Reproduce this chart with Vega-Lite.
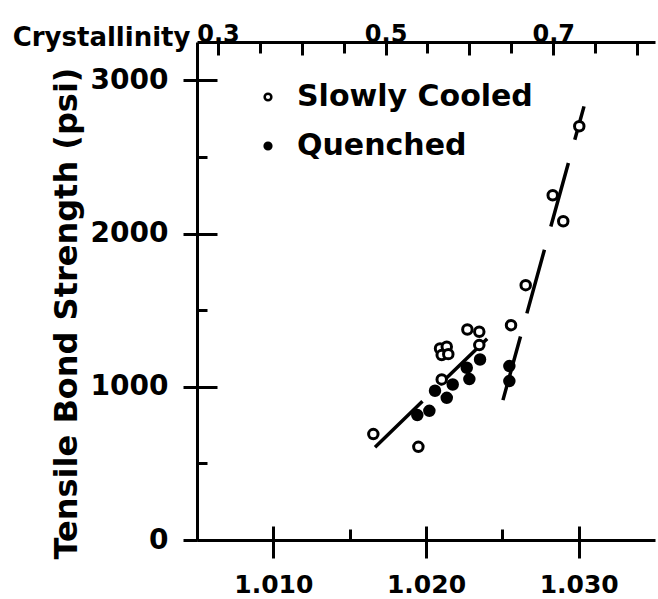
{
  "$schema": "https://vega.github.io/schema/vega-lite/v6.json",
  "width": 458,
  "height": 498,
  "autosize": {"type": "none"},
  "padding": {"left": 197, "top": 42, "right": 3, "bottom": 59},
  "background": "white",
  "config": {
    "view": {"stroke": null},
    "font": "DejaVu Sans",
    "axis": {"grid": false, "domainColor": "black", "tickColor": "black", "labelColor": "black", "titleColor": "black", "titleFontWeight": "bold", "labelFontWeight": "bold"}
  },
  "datasets": {
    "points": [
      {"density": 1.01655, "strength": 691, "treatment": "Slowly Cooled"},
      {"density": 1.01950, "strength": 608, "treatment": "Slowly Cooled"},
      {"density": 1.02103, "strength": 1048, "treatment": "Slowly Cooled"},
      {"density": 1.02092, "strength": 1250, "treatment": "Slowly Cooled"},
      {"density": 1.02136, "strength": 1261, "treatment": "Slowly Cooled"},
      {"density": 1.02103, "strength": 1207, "treatment": "Slowly Cooled"},
      {"density": 1.02146, "strength": 1213, "treatment": "Slowly Cooled"},
      {"density": 1.02271, "strength": 1374, "treatment": "Slowly Cooled"},
      {"density": 1.02349, "strength": 1359, "treatment": "Slowly Cooled"},
      {"density": 1.02349, "strength": 1272, "treatment": "Slowly Cooled"},
      {"density": 1.02557, "strength": 1402, "treatment": "Slowly Cooled"},
      {"density": 1.02653, "strength": 1663, "treatment": "Slowly Cooled"},
      {"density": 1.02830, "strength": 2250, "treatment": "Slowly Cooled"},
      {"density": 1.02899, "strength": 2080, "treatment": "Slowly Cooled"},
      {"density": 1.03004, "strength": 2700, "treatment": "Slowly Cooled"},
      {"density": 1.01943, "strength": 815, "treatment": "Quenched"},
      {"density": 1.02022, "strength": 843, "treatment": "Quenched"},
      {"density": 1.02059, "strength": 974, "treatment": "Quenched"},
      {"density": 1.02136, "strength": 928, "treatment": "Quenched"},
      {"density": 1.02175, "strength": 1015, "treatment": "Quenched"},
      {"density": 1.02267, "strength": 1124, "treatment": "Quenched"},
      {"density": 1.02284, "strength": 1050, "treatment": "Quenched"},
      {"density": 1.02354, "strength": 1178, "treatment": "Quenched"},
      {"density": 1.02546, "strength": 1135, "treatment": "Quenched"},
      {"density": 1.02546, "strength": 1037, "treatment": "Quenched"}
    ],
    "fits": [
      {"fit": "low", "density": 1.01666, "strength": 606},
      {"fit": "low", "density": 1.02452, "strength": 1363},
      {"fit": "steep", "density": 1.02504, "strength": 913},
      {"fit": "steep", "density": 1.03035, "strength": 2830}
    ]
  },
  "layer": [
    {
      "data": {"name": "fits"},
      "mark": {"type": "line", "stroke": "black", "strokeWidth": 3.5, "strokeDash": [66, 24]},
      "encoding": {
        "x": {
          "field": "density", "type": "quantitative",
          "scale": {"domain": [1.005, 1.035], "nice": false, "zero": false},
          "axis": {"orient": "bottom", "values": [1.01, 1.02, 1.03], "format": ".3f", "tickSize": 18, "tickWidth": 3, "domainWidth": 3, "labelFontSize": 25, "labelPadding": 14, "title": null}
        },
        "y": {
          "field": "strength", "type": "quantitative",
          "scale": {"domain": [0, 3250], "nice": false, "zero": true},
          "axis": {"orient": "left", "values": [0, 1000, 2000, 3000], "format": "d", "tickSize": 14, "tickWidth": 3, "domainWidth": 3, "labelFontSize": 28, "labelPadding": 15,
                   "title": "Tensile Bond Strength (psi)", "titleFontSize": 32, "titleAngle": -90, "titleAlign": "center", "titleBaseline": "middle", "titleX": -131, "titleY": 271}
        },
        "detail": {"field": "fit"}
      }
    },
    {
      "data": {"name": "points"},
      "mark": {"type": "point", "shape": "circle", "stroke": "black", "strokeWidth": 3, "size": 90, "opacity": 1},
      "encoding": {
        "x": {
          "field": "density", "type": "quantitative",
          "scale": {"domain": [1.005, 1.035], "nice": false, "zero": false},
          "axis": {"orient": "bottom", "values": [1.01, 1.015, 1.02, 1.025, 1.03], "labels": false, "domain": false, "tickWidth": 3,
                   "tickSize": {"condition": {"test": "round(datum.value*1000) % 10 == 0", "value": -14}, "value": -11}, "title": null}
        },
        "y": {
          "field": "strength", "type": "quantitative",
          "scale": {"domain": [0, 3250], "nice": false, "zero": true},
          "axis": {"orient": "left", "values": [0, 500, 1000, 1500, 2000, 2500, 3000], "labels": false, "domain": false, "tickWidth": 3,
                   "tickSize": {"condition": {"test": "datum.value % 1000 == 0", "value": -20}, "value": -10}, "title": null}
        },
        "fill": {
          "field": "treatment", "type": "nominal",
          "scale": {"domain": ["Slowly Cooled", "Quenched"], "range": ["white", "black"]},
          "legend": {"orient": "none", "legendX": 56, "legendY": 40, "title": null, "labelFontSize": 30, "labelFont": "DejaVu Sans", "labelFontWeight": "bold", "labelOffset": 14, "rowPadding": 19, "labelLimit": 0,
                     "symbolType": "circle", "symbolSize": 45, "symbolStrokeWidth": 2.5, "symbolStrokeColor": "black", "labelColor": "black", "padding": 0}
        }
      }
    },
    {
      "data": {"name": "points"},
      "mark": {"type": "point", "opacity": 0},
      "encoding": {
        "x": {
          "field": "density", "type": "quantitative",
          "scale": {"domain": [1.005, 1.035], "nice": false, "zero": false},
          "axis": {"orient": "top", "domain": true, "domainWidth": 3, "tickWidth": 3,
                   "values": [1.006376, 1.00912, 1.011865, 1.014609, 1.017354, 1.020098, 1.022843, 1.025587, 1.028331, 1.031076, 1.03382],
                   "tickSize": {"condition": {"test": "round((datum.value-1.006376)/0.0027444) % 2 == 0", "value": -13}, "value": -11},
                   "labelExpr": "(round((datum.value-1.006376)/0.0027444) % 4 == 0) ? format(0.3 + round((datum.value-1.006376)/0.0027444)*0.05, '.1f') : ''",
                   "labelFontSize": 24, "labelPadding": 14, "labelBaseline": "alphabetic",
                   "title": "Crystallinity", "titleFontSize": 26, "titleAngle": 0, "titleAlign": "right", "titleBaseline": "alphabetic", "titleX": -7, "titleY": 3}
        },
        "y": {"field": "strength", "type": "quantitative", "scale": {"domain": [0, 3250], "nice": false, "zero": true}, "axis": null}
      }
    }
  ],
  "resolve": {"axis": {"x": "independent", "y": "independent"}}
}
